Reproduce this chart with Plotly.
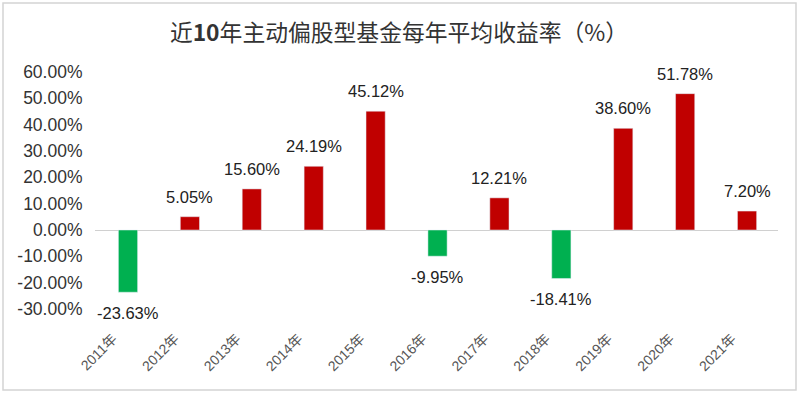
import plotly.graph_objects as go

years = ["2011年", "2012年", "2013年", "2014年", "2015年", "2016年", "2017年", "2018年", "2019年", "2020年", "2021年"]
returns = [-23.63, 5.05, 15.60, 24.19, 45.12, -9.95, 12.21, -18.41, 38.60, 51.78, 7.20]
y_ticks = [-30, -20, -10, 0, 10, 20, 30, 40, 50, 60]

colors = ["#C00000" if v >= 0 else "#00B050" for v in returns]
labels = [f"{v:.2f}%" for v in returns]

W, H = 800, 394
ml, mr, mt, mb = 95, 22, 72, 85

fig = go.Figure(go.Bar(
    x=years, y=returns, marker_color=colors, width=0.31, hoverinfo="skip",
))

for x, v, t in zip(years, returns, labels):
    fig.add_annotation(x=x, y=v, text=t, showarrow=False,
                       yshift=20 if v >= 0 else -21,
                       font=dict(size=16.5, color="#222", family="Liberation Sans, Arial"))

pw, ph = W - ml - mr, H - mt - mb
def px(x): return (x - ml) / pw
def py(y): return (H - mb - y) / ph

fig.update_layout(
    width=W, height=H,
    margin=dict(l=ml, r=mr, t=mt, b=mb, autoexpand=False),
    paper_bgcolor="white", plot_bgcolor="white",
    showlegend=False,
    title=dict(text="近<b>10</b>年主动偏股型基金每年平均收益率（%）", x=399 / W, xref="container", xanchor="center",
               y=1 - 33 / H, yref="container", yanchor="middle",
               font=dict(size=22.8, color="#333", family="Noto Sans CJK SC, Liberation Sans")),
    xaxis=dict(tickangle=-45, showgrid=False, showline=False, ticks="", automargin=False,
               ticklabelstandoff=18, ticklabelshift=-15,
               tickfont=dict(size=14, color="#555", family="Liberation Sans, Noto Sans CJK SC")),
    yaxis=dict(range=[-30, 60], tickvals=y_ticks, ticktext=[f"{v:.2f}%" for v in y_ticks],
               showgrid=False, zeroline=True, zerolinecolor="#d0d0d0", zerolinewidth=1, automargin=False,
               ticks="outside", ticklen=8, tickcolor="rgba(0,0,0,0)",
               tickfont=dict(size=17.5, color="#333", family="Liberation Sans, Arial")),
    shapes=[dict(type="rect", xref="paper", yref="paper",
                 x0=px(3), x1=px(796), y0=py(390), y1=py(3),
                 line=dict(color="#d4d4d4", width=1.5), fillcolor="rgba(0,0,0,0)", layer="below")],
    bargap=0.69,
)

fig.write_html("out.html", config={"displayModeBar": False},
               post_script="document.body.style.margin='0';document.body.style.overflow='hidden';")
